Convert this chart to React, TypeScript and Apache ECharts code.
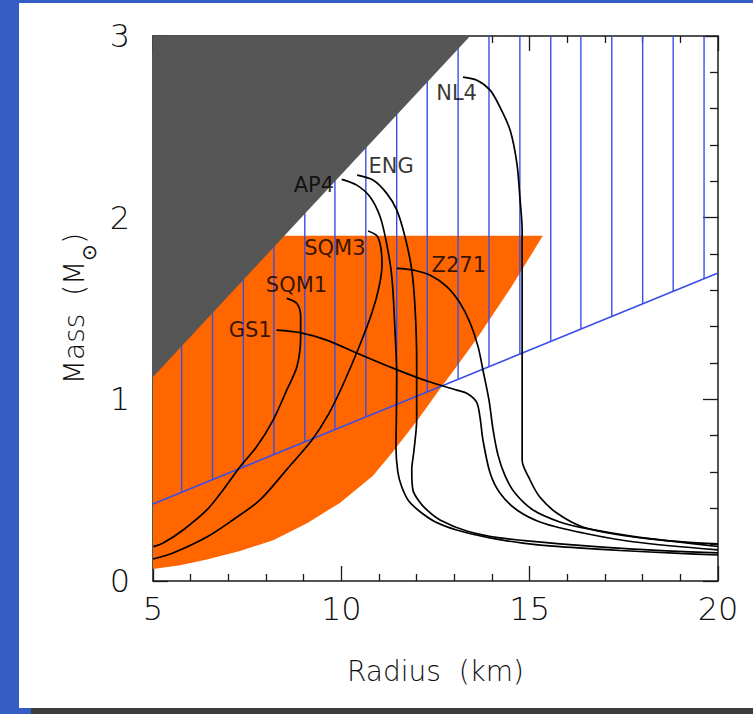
import React, { useEffect, useRef } from "react";
import * as echarts from "echarts";

// ---- data (Radius km, Mass Msun) ----
const causalityRegion = [
  [5, 1.123],
  [13.42, 3],
  [5, 3],
];

const orangeRegion = [
  [5.0, 0.066],
  [5.72, 0.087],
  [6.43, 0.118],
  [7.31, 0.165],
  [8.19, 0.225],
  [9.09, 0.318],
  [9.96, 0.43],
  [10.84, 0.58],
  [11.37, 0.712],
  [12.02, 0.885],
  [12.62, 1.058],
  [13.15, 1.205],
  [13.63, 1.345],
  [14.48, 1.608],
  [15.35, 1.9],
  [5.0, 1.9],
];

const hatchBoundary = [
  [5, 0.424],
  [20, 1.695],
];

const hatchR = [
  5.76, 6.58, 7.4, 8.21, 9.03, 9.83, 10.65, 11.47, 12.28, 13.1, 13.92, 14.74,
  15.56, 16.36, 17.18, 18.0, 18.81, 19.63,
];

const NL4 = [
  [13.23, 2.774], [13.6, 2.757], [13.95, 2.702], [14.21, 2.609], [14.48, 2.482],
  [14.66, 2.3], [14.74, 2.113], [14.8, 1.93], [14.8, 1.38], [14.8, 0.666],
  [15.01, 0.556], [15.27, 0.462], [15.72, 0.374], [16.41, 0.297], [17.32, 0.256],
  [18.19, 0.232], [19.07, 0.215], [20.0, 0.204],
];

const ENG = [
  [10.42, 2.234], [10.84, 2.207], [11.2, 2.135], [11.47, 2.043], [11.69, 1.895],
  [11.87, 1.712], [11.96, 1.491], [12.0, 1.216], [12.0, 0.886], [11.93, 0.721],
  [11.87, 0.611], [11.9, 0.501], [12.04, 0.446], [12.27, 0.391], [12.62, 0.336],
  [13.33, 0.275], [14.21, 0.237], [15.8, 0.204], [17.74, 0.176], [20.0, 0.155],
];

const AP4 = [
  [10.01, 2.211], [10.41, 2.179], [10.76, 2.115], [11.03, 2.005], [11.2, 1.86],
  [11.34, 1.675], [11.42, 1.4], [11.47, 1.124], [11.46, 0.886], [11.45, 0.739],
  [11.5, 0.6], [11.6, 0.52], [11.79, 0.44], [12.1, 0.38], [12.5, 0.325],
  [13.06, 0.281], [13.95, 0.237], [14.82, 0.209], [15.8, 0.189], [17.4, 0.168],
  [18.99, 0.152], [20.0, 0.143],
];

const Z271 = [
  [11.47, 1.721], [11.9, 1.712], [12.35, 1.684], [12.8, 1.62], [13.15, 1.53],
  [13.42, 1.42], [13.63, 1.29], [13.76, 1.161], [13.92, 0.996], [14.03, 0.831],
  [14.16, 0.693], [14.34, 0.583], [14.61, 0.484], [15.09, 0.391], [15.8, 0.325],
  [16.42, 0.292], [17.74, 0.246], [20.0, 0.19],
];

const GS1 = [
  [8.28, 1.381], [8.9, 1.367], [9.61, 1.326], [10.41, 1.255], [11.37, 1.172],
  [12.27, 1.101], [13.06, 1.051], [13.33, 1.033], [13.59, 0.985], [13.68, 0.904],
  [13.76, 0.776], [13.95, 0.594], [14.21, 0.484], [14.66, 0.391], [15.35, 0.319],
  [16.42, 0.264], [17.74, 0.216], [20.0, 0.171],
];

const SQM1 = [
  [5.01, 0.189], [5.27, 0.209], [5.8, 0.281], [6.43, 0.391], [6.86, 0.501],
  [7.31, 0.629], [7.75, 0.739], [8.19, 0.886], [8.55, 1.051], [8.82, 1.179],
  [8.92, 1.345], [8.92, 1.455], [8.82, 1.528], [8.55, 1.556],
];

const SQM3 = [
  [5.0, 0.121], [5.53, 0.154], [6.43, 0.242], [7.12, 0.336], [7.84, 0.446],
  [8.56, 0.616], [9.22, 0.776], [9.65, 0.914], [10.04, 1.079], [10.47, 1.288],
  [10.81, 1.475], [11.0, 1.618], [11.08, 1.739], [11.05, 1.833], [10.95, 1.899],
  [10.71, 1.927],
];

const curves = [
  { name: "NL4", data: NL4 },
  { name: "ENG", data: ENG },
  { name: "AP4", data: AP4 },
  { name: "Z271", data: Z271 },
  { name: "GS1", data: GS1 },
  { name: "SQM1", data: SQM1 },
  { name: "SQM3", data: SQM3 },
];

const curveLabels = [
  { name: "NL4", r: 13.06, m: 2.686 },
  { name: "ENG", r: 11.32, m: 2.284 },
  { name: "AP4", r: 9.27, m: 2.179 },
  { name: "SQM3", r: 9.83, m: 1.833 },
  { name: "Z271", r: 13.12, m: 1.739 },
  { name: "SQM1", r: 8.81, m: 1.629 },
  { name: "GS1", r: 7.58, m: 1.381 },
];

const FONT = "DejaVu Sans";
const WEIGHT = 200;
const INK = "#111";
const BLUE = "#3a4ee6";

function polygonSeries(points: number[][], fill: string, z: number) {
  return {
    type: "custom",
    coordinateSystem: "cartesian2d",
    silent: true,
    z,
    data: [[points[0][0], points[0][1]]],
    renderItem: (_p: any, api: any) => ({
      type: "polygon",
      shape: { points: points.map((pt) => api.coord(pt)), smooth: 0 },
      style: { fill },
    }),
  };
}

function makeXAxis(pos: "bottom" | "top") {
  const main = pos === "bottom";
  return {
    type: "value",
    position: pos,
    min: 5,
    max: 20,
    interval: 5,
    axisLine: { show: true, onZero: false, lineStyle: { color: "#1a1a1a", width: 1.5 } },
    axisTick: { show: true, inside: true, length: 15, lineStyle: { color: "#1a1a1a", width: 1.3 } },
    minorTick: { show: true, splitNumber: 5, length: 7, lineStyle: { color: "#1a1a1a", width: 1.3 } },
    splitLine: { show: false },
    axisLabel: {
      show: main,
      fontSize: 32,
      margin: 12,
      color: INK,
      fontFamily: FONT,
      fontWeight: WEIGHT,
    },
    name: main ? "Radius  (km)" : "",
    nameLocation: "middle",
    nameGap: 76,
    nameTextStyle: { fontSize: 28, color: INK, fontFamily: FONT, fontWeight: WEIGHT },
  };
}

function makeYAxis(pos: "left" | "right") {
  const main = pos === "left";
  return {
    type: "value",
    position: pos,
    min: 0,
    max: 3,
    interval: 1,
    axisLine: { show: true, onZero: false, lineStyle: { color: "#1a1a1a", width: 1.5 } },
    axisTick: { show: true, inside: true, length: 15, lineStyle: { color: "#1a1a1a", width: 1.3 } },
    minorTick: { show: true, splitNumber: 5, length: 8, lineStyle: { color: "#1a1a1a", width: 1.3 } },
    splitLine: { show: false },
    axisLabel: {
      show: main,
      fontSize: 32,
      margin: 23,
      color: INK,
      fontFamily: FONT,
      fontWeight: WEIGHT,
    },
    name: main ? "{m|Mass  (M}{s|⊙}{m|)}" : "",
    nameLocation: "middle",
    nameGap: 48,
    nameTextStyle: {
      color: INK,
      fontFamily: FONT,
      fontSize: 28,
      fontWeight: WEIGHT,
      rich: {
        m: { fontSize: 28, color: INK, fontFamily: FONT, fontWeight: WEIGHT, lineHeight: 38, verticalAlign: "top" },
        s: { fontSize: 20, color: INK, fontFamily: FONT, fontWeight: WEIGHT, verticalAlign: "bottom" },
      },
    },
  };
}

export default function App() {
  const ref = useRef<HTMLDivElement>(null);

  useEffect(() => {
    if (!ref.current) return;
    const chart = echarts.init(ref.current, undefined, { renderer: "svg" });

    const option: any = {
      animation: false,
      backgroundColor: "transparent",
      grid: { left: 153, right: 35, top: 36, bottom: 133, containLabel: false },
      xAxis: [makeXAxis("bottom"), makeXAxis("top")],
      yAxis: [makeYAxis("left"), makeYAxis("right")],
      series: [
        polygonSeries(orangeRegion, "#ff6600", 1),
        {
          type: "custom",
          coordinateSystem: "cartesian2d",
          silent: true,
          z: 2,
          data: hatchR.map((r) => [r, 3]),
          renderItem: (_p: any, api: any) => {
            const r = api.value(0);
            const top = api.value(1);
            const [p0, p1] = hatchBoundary;
            const mb = p0[1] + ((r - p0[0]) * (p1[1] - p0[1])) / (p1[0] - p0[0]);
            const a = api.coord([r, mb]);
            const b = api.coord([r, top]);
            return {
              type: "line",
              shape: { x1: a[0], y1: a[1], x2: b[0], y2: b[1] },
              style: { stroke: BLUE, lineWidth: 1.4 },
            };
          },
        },
        {
          type: "line",
          silent: true,
          z: 2,
          data: hatchBoundary,
          symbol: "none",
          lineStyle: { color: BLUE, width: 1.7 },
        },
        polygonSeries(causalityRegion, "#565656", 3),
        ...curves.map((c) => ({
          type: "line",
          name: c.name,
          silent: true,
          z: 4,
          data: c.data,
          symbol: "none",
          smooth: 0.3,
          lineStyle: { color: "#000", width: 1.7 },
        })),
        {
          type: "scatter",
          silent: true,
          z: 5,
          symbolSize: 1,
          itemStyle: { color: "transparent" },
          data: curveLabels.map((l) => [l.r, l.m, l.name]),
          label: {
            show: true,
            position: "inside",
            formatter: (p: any) => p.value[2],
            fontSize: 21,
            color: "#000",
            fontFamily: FONT,
          },
        },
      ],
    };

    chart.setOption(option);
    return () => chart.dispose();
  }, []);

  return (
    <div
      style={{
        position: "fixed",
        left: 0,
        top: 0,
        width: 753,
        height: 714,
        background: "#345dc6",
        overflow: "hidden",
      }}
    >
      <div
        style={{ position: "absolute", left: 19, top: 3, width: 734, height: 705, background: "#ffffff" }}
      />
      <div
        style={{ position: "absolute", left: 31, top: 708, width: 722, height: 6, background: "#3c3c3c" }}
      />
      <div ref={ref} style={{ position: "absolute", left: 0, top: 0, width: 753, height: 714 }} />
    </div>
  );
}
